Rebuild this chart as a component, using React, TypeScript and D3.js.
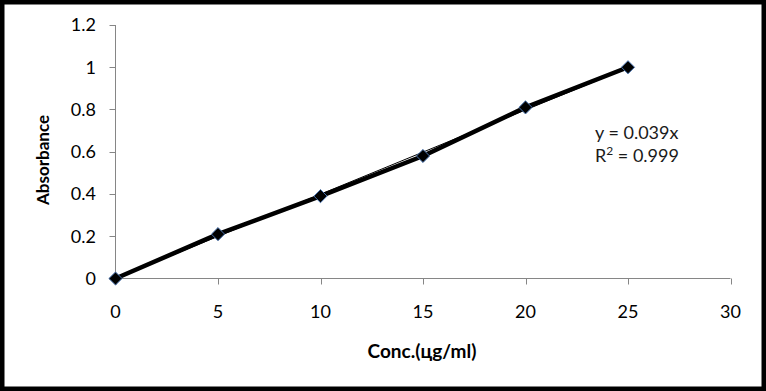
import * as d3 from "d3";

const concentrations = [0, 5, 10, 15, 20, 25];
const absorbance = [0, 0.21, 0.39, 0.58, 0.81, 1.0];
const xTicks = [0, 5, 10, 15, 20, 25, 30];
const yTicks = [0, 0.2, 0.4, 0.6, 0.8, 1, 1.2];
const equationLines = ["y = 0.039x", "R² = 0.999"];

const width = 766;
const height = 391;
const marginLeft = 115.5;
const marginRight = 35.5;
const marginTop = 25;
const marginBottom = 112.5;
const font = "Lato, 'Open Sans', sans-serif";
const axisColor = "#868686";

// render "²" as a real superscript tspan
const withSuperscript = (s: string) => {
  const parts = s.split("²");
  if (parts.length === 1) return s;
  return (
    <>
      {parts[0]}
      <tspan dy={-7} fontSize={12}>2</tspan>
      <tspan dy={7}>{parts[1]}</tspan>
    </>
  );
};

const App = () => {
  const x = d3
    .scaleLinear()
    .domain([0, 30])
    .range([marginLeft, width - marginRight]);
  const y = d3
    .scaleLinear()
    .domain([0, 1.2])
    .range([height - marginBottom, marginTop]);

  const points = concentrations.map((c, i) => [c, absorbance[i]] as [number, number]);

  // linear trendline forced through origin (least squares)
  const slope =
    d3.sum(points, (p) => p[0] * p[1]) / d3.sum(points, (p) => p[0] * p[0]);

  const line = d3
    .line<[number, number]>()
    .x((d) => x(d[0]))
    .y((d) => y(d[1]));

  const diamond = d3.symbol().type(d3.symbolDiamond2).size(110)();
  const y0 = y(0);

  return (
    <svg
      width={width}
      height={height}
      style={{ position: "absolute", left: 0, top: 0, background: "#fff" }}
    >
      <rect x={0} y={0} width={width} height={height} fill="#fff" />
      <rect
        x={2.25}
        y={2.25}
        width={width - 4.5}
        height={height - 4.5}
        fill="none"
        stroke="#000"
        strokeWidth={4.5}
      />

      {/* y axis */}
      <line x1={marginLeft} x2={marginLeft} y1={y(1.2)} y2={y0} stroke={axisColor} />
      {yTicks.map((t) => (
        <g key={t}>
          <line
            x1={marginLeft - 6}
            x2={marginLeft}
            y1={Math.round(y(t)) + 0.5}
            y2={Math.round(y(t)) + 0.5}
            stroke={axisColor}
          />
          <text
            x={96}
            y={y(t)}
            dy="0.36em"
            textAnchor="end"
            fontFamily={font}
            fontSize={18}
            fill="#000"
          >
            {t}
          </text>
        </g>
      ))}

      {/* x axis */}
      <line x1={marginLeft} x2={x(30)} y1={y0} y2={y0} stroke={axisColor} />
      {xTicks.map((t) => (
        <g key={t}>
          <line
            x1={Math.round(x(t)) + 0.5}
            x2={Math.round(x(t)) + 0.5}
            y1={y0}
            y2={y0 + 6}
            stroke={axisColor}
          />
          <text
            x={x(t)}
            y={317.5}
            textAnchor="middle"
            fontFamily={font}
            fontSize={18}
            fill="#000"
          >
            {t}
          </text>
        </g>
      ))}

      {/* data line */}
      <path d={line(points) ?? ""} fill="none" stroke="#000" strokeWidth={4.5} strokeLinejoin="round" />
      {/* trendline */}
      <path
        d={line([[0, 0], [25, slope * 25]]) ?? ""}
        fill="none"
        stroke="#000"
        strokeWidth={1}
      />
      {points.map((p) => (
        <path
          key={p[0]}
          d={diamond ?? ""}
          transform={`translate(${x(p[0])},${y(p[1])})`}
          fill="#000"
          stroke="#4a74b0"
          strokeWidth={1}
        />
      ))}

      {/* equation */}
      {equationLines.map((l, i) => (
        <text
          key={l}
          x={595}
          y={138.5 + i * 23.5}
          fontFamily={font}
          fontSize={18}
          fill="#1a1a1a"
        >
          {withSuperscript(l)}
        </text>
      ))}

      {/* axis titles */}
      <text
        transform={`translate(49,160) rotate(-90)`}
        textAnchor="middle"
        fontFamily={font}
        fontSize={17}
        fontWeight="bold"
        fill="#000"
      >
        Absorbance
      </text>
      <text
        x={422}
        y={358}
        textAnchor="middle"
        fontFamily={font}
        fontSize={19}
        fontWeight="bold"
        fill="#000"
      >
        Conc.(цg/ml)
      </text>
    </svg>
  );
};

export default App;
